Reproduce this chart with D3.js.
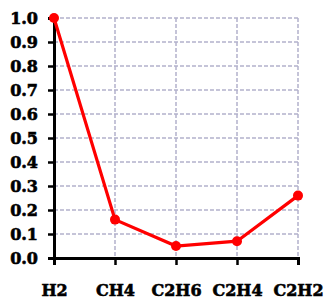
<!DOCTYPE html>
<html>
<head>
<meta charset="utf-8">
<script src="https://cdn.jsdelivr.net/npm/d3@7.9.0/dist/d3.min.js"></script>
<style>
  body { margin: 0; background: #fff; }
  svg text { font-family: "DejaVu Serif", serif; font-weight: bold; fill: #000; stroke: #000; stroke-width: 0.6px; }
</style>
</head>
<body>
<svg width="325" height="299"></svg>
<script>
// data
const gases = ["H2", "CH4", "C2H6", "C2H4", "C2H2"];
const ratios = [1.0, 0.16, 0.05, 0.07, 0.26];
const yTicks = [0, 0.1, 0.2, 0.3, 0.4, 0.5, 0.6, 0.7, 0.8, 0.9, 1.0];

let svg = d3.select("svg");

let x = d3.scalePoint().domain(gases).range([54, 298]).padding(0);
let y = d3.scaleLinear().domain([0, 1]).range([258, 18]);

// grid
let grid = svg.append("g")
    .attr("stroke", "#b3b1cc")
    .attr("stroke-width", 1.5)
    .attr("stroke-dasharray", "4,2");

grid.selectAll(".h")
    .data(yTicks.filter(d => d > 0))
    .enter()
    .append("line")
    .attr("x1", x.range()[0]).attr("x2", x.range()[1])
    .attr("y1", d => y(d)).attr("y2", d => y(d));

grid.selectAll(".v")
    .data(gases.slice(1))
    .enter()
    .append("line")
    .attr("x1", d => x(d)).attr("x2", d => x(d))
    .attr("y1", y(1)).attr("y2", y(0));

// y axis
let yAxis = svg.append("g")
    .attr("transform", `translate(${x.range()[0]},0)`)
    .call(d3.axisLeft(y).tickValues(yTicks).tickFormat(d3.format(".1f")).tickSize(6).tickPadding(10));
yAxis.select(".domain").attr("stroke-width", 3);
yAxis.selectAll(".tick line").attr("stroke-width", 2.5);
yAxis.selectAll("text").attr("font-size", 16).attr("dy", "0.36em");

// x axis
let xAxis = svg.append("g")
    .attr("transform", `translate(0,${y(0)})`)
    .call(d3.axisBottom(x).tickSize(7).tickPadding(20));
xAxis.select(".domain").attr("stroke-width", 3);
xAxis.selectAll(".tick line").attr("stroke-width", 2.5);
xAxis.selectAll("text").attr("font-size", 16);

// line + markers
let points = gases.map((g, i) => ({ gas: g, value: ratios[i] }));

svg.append("path")
    .datum(points)
    .attr("fill", "none")
    .attr("stroke", "#ff0000")
    .attr("stroke-width", 3.2)
    .attr("d", d3.line().x(d => x(d.gas)).y(d => y(d.value)));

svg.selectAll(".dot")
    .data(points)
    .enter()
    .append("circle")
    .attr("cx", d => x(d.gas))
    .attr("cy", d => y(d.value))
    .attr("r", 5)
    .attr("fill", "#ff0000");
</script>
</body>
</html>
